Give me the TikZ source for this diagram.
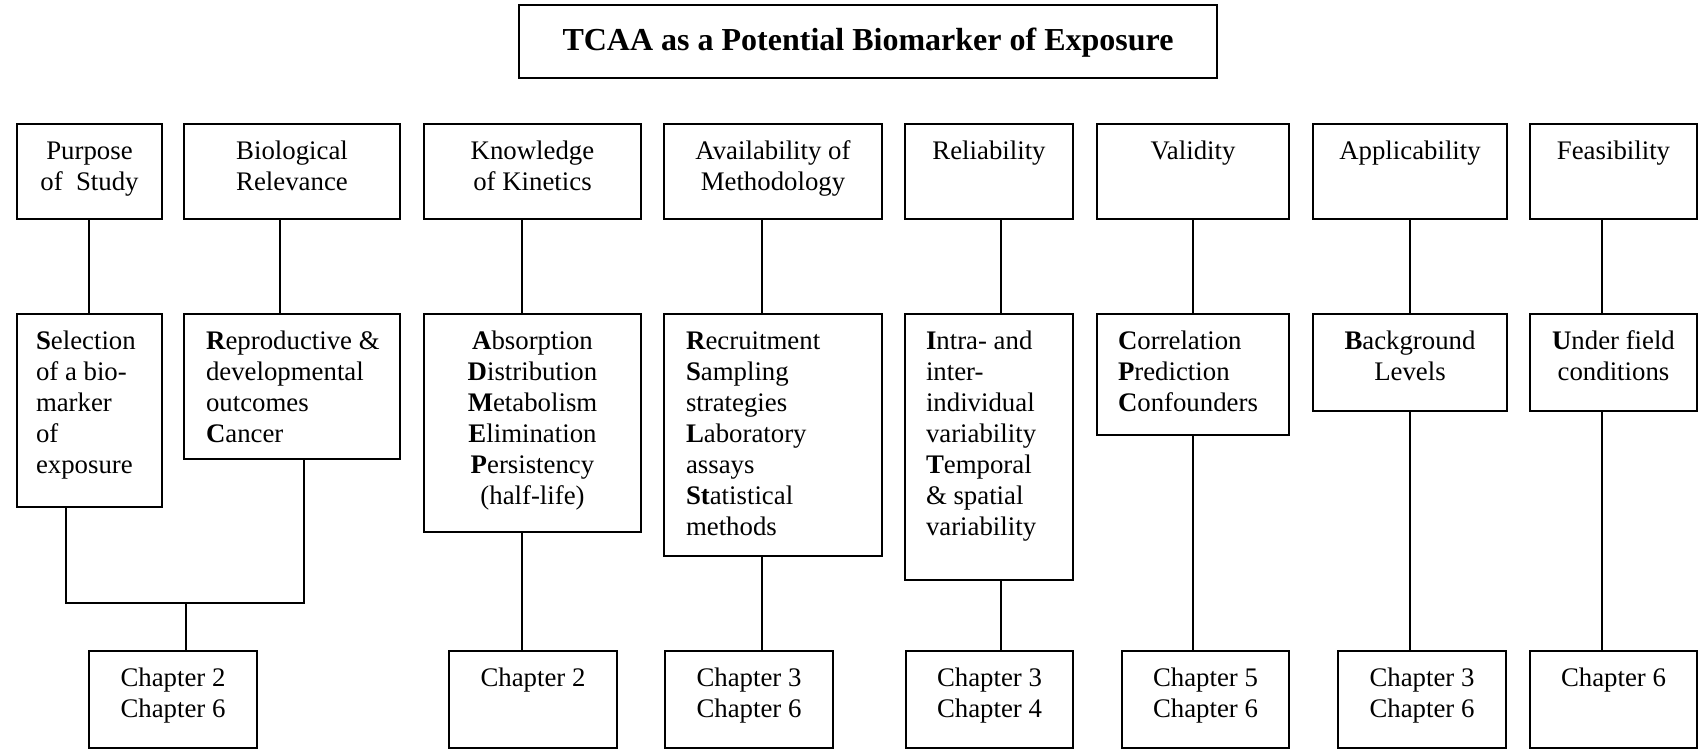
\documentclass[tikz,border=0pt]{standalone}
\usepackage{fontspec}
\setmainfont{Liberation Serif}
\tikzset{
  bx/.style={draw, line width=1.8pt, inner sep=0pt, outer sep=0pt, anchor=north west},
  txt/.style={inner sep=0pt, outer sep=0pt, font=\fontsize{26.8}{31}\selectfont},
  conn/.style={line width=1.8pt}
}
\newcommand\boxC[6]{%
  \node[bx, minimum width={(#4-#2)*1pt}, minimum height={(#5-#3)*1pt}] (#1) at (#2,#3) {};
  \node[txt, align=center, anchor=north] at ([yshift=-13.5pt]#1.north) {\strut #6};}
\newcommand\boxL[7]{%
  \node[bx, minimum width={(#4-#2)*1pt}, minimum height={(#5-#3)*1pt}] (#1) at (#2,#3) {};
  \node[txt, align=left, anchor=north west] at ([xshift=#6pt,yshift=-13.5pt]#1.north west) {\strut #7};}
\begin{document}
\begin{tikzpicture}[x=1pt,y=-1pt]
\useasboundingbox (0,0) rectangle (1698,752);
% title
\node[bx, minimum width=698pt, minimum height=73pt] (title) at (519,5) {};
\node[txt, font=\fontsize{32}{37}\selectfont\bfseries] at ([yshift=-1pt]title.center) {TCAA as a Potential Biomarker of Exposure};
% top row
\boxC{t1}{17}{124}{162}{219}{Purpose\\of~ Study}
\boxC{t2}{184}{124}{400}{219}{Biological\\Relevance}
\boxC{t3}{424}{124}{641}{219}{Knowledge\\of Kinetics}
\boxC{t4}{664}{124}{882}{219}{Availability of\\Methodology}
\boxC{t5}{905}{124}{1073}{219}{Reliability}
\boxC{t6}{1097}{124}{1289}{219}{Validity}
\boxC{t7}{1313}{124}{1507}{219}{Applicability}
\boxC{t8}{1530}{124}{1697}{219}{Feasibility}
% middle row
\boxL{m1}{17}{314}{162}{507}{19}{\textbf{S}election\\of a bio-\\marker\\of\\exposure}
\boxL{m2}{184}{314}{400}{459}{22}{\textbf{R}eproductive \&\\developmental\\outcomes\\\textbf{C}ancer}
\boxC{m3}{424}{314}{641}{532}{\textbf{A}bsorption\\\textbf{D}istribution\\\textbf{M}etabolism\\\textbf{E}limination\\\textbf{P}ersistency\\(half-life)}
\boxL{m4}{664}{314}{882}{556}{22}{\textbf{R}ecruitment\\\textbf{S}ampling\\strategies\\\textbf{L}aboratory\\assays\\\textbf{St}atistical\\methods}
\boxL{m5}{905}{314}{1073}{580}{21}{\textbf{I}ntra- and\\inter-\\individual\\variability\\\textbf{T}emporal\\\& spatial\\variability}
\boxL{m6}{1097}{314}{1289}{435}{21}{\textbf{C}orrelation\\\textbf{P}rediction\\\textbf{C}onfounders}
\boxC{m7}{1313}{314}{1507}{411}{\textbf{B}ackground\\Levels}
\boxC{m8}{1530}{314}{1697}{411}{\textbf{U}nder field\\conditions}
% bottom row
\boxC{b1}{89}{651}{257}{748}{Chapter 2\\Chapter 6}
\boxC{b3}{449}{651}{617}{748}{Chapter 2}
\boxC{b4}{665}{651}{833}{748}{Chapter 3\\Chapter 6}
\boxC{b5}{906}{651}{1073}{748}{Chapter 3\\Chapter 4}
\boxC{b6}{1122}{651}{1289}{748}{Chapter 5\\Chapter 6}
\boxC{b7}{1338}{651}{1506}{748}{Chapter 3\\Chapter 6}
\boxC{b8}{1530}{651}{1697}{748}{Chapter 6}
% connector x positions
\coordinate (x1) at (89,0);
\coordinate (x2) at (280,0);
\coordinate (x3) at (522,0);
\coordinate (x4) at (762,0);
\coordinate (x5) at (1001,0);
\coordinate (x6) at (1193,0);
\coordinate (x7) at (1410,0);
\coordinate (x8) at (1602,0);
\coordinate (bl) at (66,0);
\coordinate (br) at (304,0);
\coordinate (j) at (186,603);
% top to middle
\foreach \i in {1,...,8} {\draw[conn] (t\i.south -| x\i) -- (m\i.north -| x\i);}
% middle to bottom
\foreach \i in {3,...,8} {\draw[conn] (m\i.south -| x\i) -- (b\i.north -| x\i);}
% bracket
\draw[conn] (m1.south -| bl) |- (j) -| (m2.south -| br);
\draw[conn] (j) -- (b1.north -| j);
\end{tikzpicture}
\end{document}
